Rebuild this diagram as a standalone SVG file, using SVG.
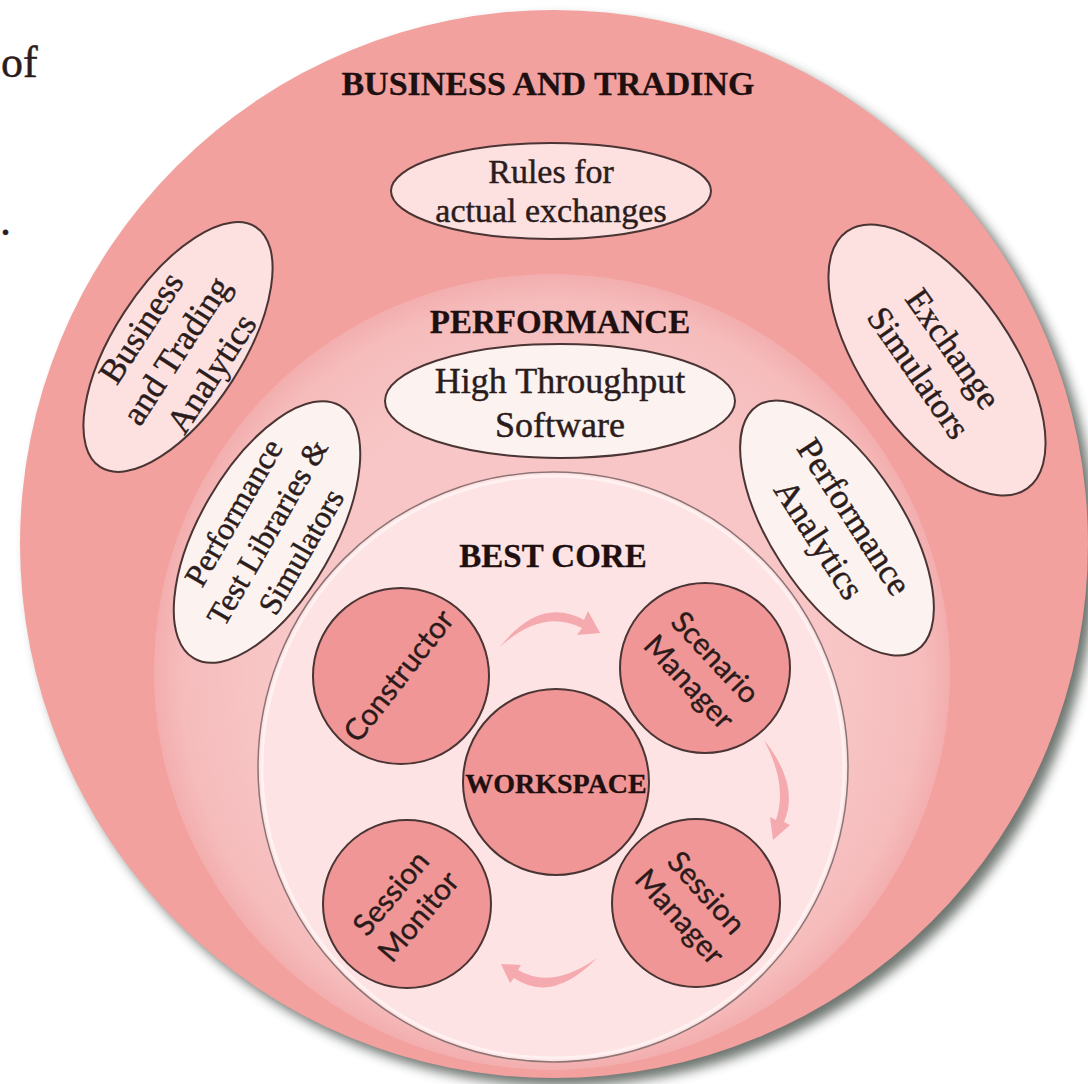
<svg xmlns="http://www.w3.org/2000/svg" width="1088" height="1084" viewBox="0 0 1088 1084">
<defs>
<style>
.serif{font-family:"Liberation Serif","Times New Roman",serif;fill:#2b1c1c;stroke:#2b1c1c;stroke-width:0.45}
.bold{font-weight:bold;fill:#1e1010;stroke:#1e1010;stroke-width:0.3}
.sans{font-family:Lato,"Open Sans","DejaVu Sans",sans-serif;fill:#2b1a1a;stroke:#2b1a1a;stroke-width:0.35;font-size:30px}
.ell{stroke:#4a3434;stroke-width:2}
.pink{fill:#fde1e1}
.cream{fill:#fcf2ef}
.node{fill:#f09696;stroke:#4a3434;stroke-width:2}
.arrow{fill:#f3a3a8;opacity:0.9}
</style>
<filter id="sh" x="-10%" y="-10%" width="130%" height="130%"><feGaussianBlur stdDeviation="6"/></filter>
<radialGradient id="perfG" cx="552" cy="672" r="398" gradientUnits="userSpaceOnUse">
<stop offset="0.7" stop-color="#f8c6c6"/>
<stop offset="0.93" stop-color="#f6bcbc"/>
<stop offset="1" stop-color="#f3aeae"/>
</radialGradient>
</defs>
<rect width="1088" height="1084" fill="#ffffff"/>
<text class="serif" x="1" y="77" font-size="44">of</text>
<text class="serif" x="0" y="235" font-size="44">.</text>

<g id="business-and-trading">
<circle cx="562" cy="552" r="534" fill="#3e463f" opacity="0.75" filter="url(#sh)"/>
<circle cx="554" cy="544" r="534" fill="#f3a19f"/>
<text class="serif bold" x="548" y="95" font-size="34" text-anchor="middle">BUSINESS AND TRADING</text>
</g>
<g id="rules-for-actual-exchanges">
<ellipse class="ell pink" cx="551" cy="191" rx="160" ry="48"/>
<text class="serif" x="551" y="183" font-size="34" text-anchor="middle">Rules for</text>
<text class="serif" x="551" y="222" font-size="34" text-anchor="middle">actual exchanges</text>
</g>
<g id="business-and-trading-analytics" transform="translate(178,347) rotate(-57)">
<ellipse class="ell pink" cx="0" cy="0" rx="143" ry="64"/>
<text class="serif" x="-4" y="-30" font-size="35" text-anchor="middle">Business</text>
<text class="serif" x="-4" y="12" font-size="35" text-anchor="middle">and Trading</text>
<text class="serif" x="-4" y="54" font-size="35" text-anchor="middle">Analytics</text>
</g>
<g id="exchange-simulators" transform="translate(937,360) rotate(55)">
<ellipse class="ell pink" cx="0" cy="0" rx="157" ry="74"/>
<text class="serif" x="0" y="-8" font-size="35" text-anchor="middle">Exchange</text>
<text class="serif" x="0" y="34" font-size="35" text-anchor="middle">Simulators</text>
</g>

<g id="performance">
<circle cx="552" cy="672" r="398" fill="url(#perfG)"/>
<text class="serif bold" x="560" y="333" font-size="33" text-anchor="middle">PERFORMANCE</text>
</g>
<g id="high-throughput-software">
<ellipse class="ell cream" cx="560" cy="401" rx="175" ry="57"/>
<text class="serif" x="560" y="393" font-size="36" text-anchor="middle">High Throughput</text>
<text class="serif" x="560" y="437" font-size="36" text-anchor="middle">Software</text>
</g>
<g id="performance-test-libraries" transform="translate(267,532) rotate(-60)">
<ellipse class="ell cream" cx="0" cy="0" rx="146" ry="67"/>
<text class="serif" x="0" y="-28" font-size="32" text-anchor="middle">Performance</text>
<text class="serif" x="0" y="11" font-size="32" text-anchor="middle">Test Libraries &amp;</text>
<text class="serif" x="0" y="50" font-size="32" text-anchor="middle">Simulators</text>
</g>
<g id="performance-analytics" transform="translate(837,528) rotate(57)">
<ellipse class="ell cream" cx="0" cy="0" rx="146" ry="66"/>
<text class="serif" x="0" y="-9" font-size="35" text-anchor="middle">Performance</text>
<text class="serif" x="0" y="33" font-size="35" text-anchor="middle">Analytics</text>
</g>

<g id="best-core">
<circle cx="553" cy="767" r="295" fill="#fde3e3" stroke="#8c7474" stroke-width="1.5"/>
<circle cx="553" cy="767" r="291" fill="none" stroke="#fff4f4" stroke-width="3" opacity="0.8"/>
<text class="serif bold" x="553" y="567" font-size="33" text-anchor="middle">BEST CORE</text>
</g>

<g id="connectors">
<path class="arrow" d="M500 647 Q540 596 584 620 L588 611 L600 633 L577 635 L582 628 Q542 608 500 647 Z"/>
<path class="arrow" d="M764 740 Q800 785 784 822 L790 825 L773 840 L770 817 L776 820 Q788 785 764 740 Z"/>
<path class="arrow" d="M597 958 Q552 1004 514 978 L510 983 L501 964 L521 965 L518 970 Q552 990 597 958 Z"/>
</g>

<g id="constructor">
<circle class="node" cx="401" cy="676" r="88"/>
<text class="sans" transform="translate(399,676) rotate(-52)" x="0" y="10" text-anchor="middle">Constructor</text>
</g>
<g id="scenario-manager">
<circle class="node" cx="705" cy="668" r="85"/>
<g transform="translate(702,670) rotate(47)">
<text class="sans" x="0" y="-8" text-anchor="middle">Scenario</text>
<text class="sans" x="0" y="28" text-anchor="middle">Manager</text>
</g>
</g>
<g id="workspace">
<circle class="node" cx="556" cy="782" r="93"/>
<text class="serif bold" x="556" y="793" font-size="28" text-anchor="middle">WORKSPACE</text>
</g>
<g id="session-monitor">
<circle class="node" cx="407" cy="904" r="84"/>
<g transform="translate(405,905) rotate(-50)">
<text class="sans" x="0" y="-8" text-anchor="middle">Session</text>
<text class="sans" x="0" y="28" text-anchor="middle">Monitor</text>
</g>
</g>
<g id="session-manager">
<circle class="node" cx="696" cy="903" r="84"/>
<g transform="translate(693,905) rotate(48)">
<text class="sans" x="0" y="-8" text-anchor="middle">Session</text>
<text class="sans" x="0" y="28" text-anchor="middle">Manager</text>
</g>
</g>
</svg>
